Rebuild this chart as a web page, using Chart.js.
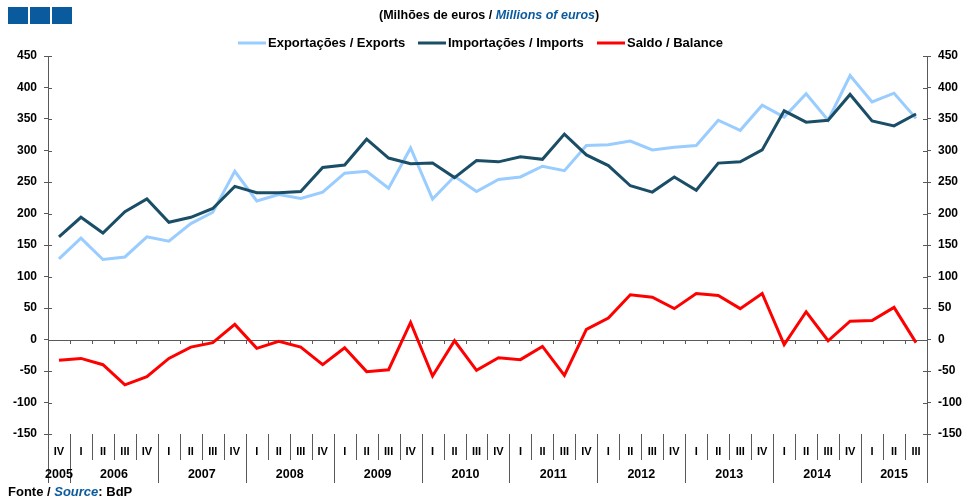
<!DOCTYPE html>
<html>
<head>
<meta charset="utf-8">
<script src="https://cdn.jsdelivr.net/npm/chart.js@4/dist/chart.umd.min.js"></script>
<style>
  body { margin: 0; background: #fff; }
  #wrap { position: relative; width: 968px; height: 502px; overflow: hidden; font-family: "Liberation Sans", Arial, sans-serif; }
  #chart { position: absolute; left: 0; top: 0; }
  .sq { position: absolute; top: 7px; width: 20px; height: 17px; background: #0a5a9e; }
  #sub { position: absolute; left: 379px; top: 8px; font-size: 12.5px; font-weight: bold; color: #000; white-space: nowrap; }
  #foot { position: absolute; left: 8px; top: 484px; font-size: 13px; font-weight: bold; color: #000; white-space: nowrap; }
  .blue { color: #0a5a9e; font-style: italic; }
</style>
</head>
<body>
<div id="wrap">
  <canvas id="chart" width="968" height="502"></canvas>
  <div class="sq" style="left:8px"></div>
  <div class="sq" style="left:30px"></div>
  <div class="sq" style="left:52px"></div>
  <div id="sub">(Milhões de euros / <span class="blue">Millions of euros</span>)</div>
  <div id="foot">Fonte / <span class="blue">Source</span>: BdP</div>
</div>
<script>
// quarters 2005 IV .. 2015 III
const quarters = [
  'IV',
  'I', 'II', 'III', 'IV',
  'I', 'II', 'III', 'IV',
  'I', 'II', 'III', 'IV',
  'I', 'II', 'III', 'IV',
  'I', 'II', 'III', 'IV',
  'I', 'II', 'III', 'IV',
  'I', 'II', 'III', 'IV',
  'I', 'II', 'III', 'IV',
  'I', 'II', 'III', 'IV',
  'I', 'II', 'III'
];
const years = ['2005', '2006', '2007', '2008', '2009', '2010', '2011', '2012', '2013', '2014', '2015'];
const quartersPerYear = [1, 4, 4, 4, 4, 4, 4, 4, 4, 4, 3];

const exportsData = [
  128, 161, 127, 131, 163, 156, 184, 202, 267, 220,
  230, 224, 234, 264, 267, 240, 304, 223, 259, 235,
  254, 258, 275, 268, 308, 309, 315, 301, 305, 308,
  348, 332, 372, 353, 390, 348, 419, 377, 391, 351
];
const importsData = [
  163, 194, 169, 203, 223, 186, 194, 208, 243, 233,
  233, 235, 273, 277, 318, 288, 279, 280, 257, 284,
  282, 290, 286, 326, 293, 276, 244, 234, 258, 237,
  280, 282, 301, 363, 345, 348, 389, 347, 339, 358
];
const balanceData = [
  -33, -30, -40, -72, -59, -30, -12, -5, 24, -14,
  -3, -12, -40, -13, -51, -48, 27, -58, -2, -49,
  -29, -32, -11, -57, 16, 34, 71, 67, 49, 73,
  70, 49, 73, -8, 44, -2, 29, 30, 51, -5
];

const yTicks = { min: -150, max: 450, step: 50 };

const colExports = '#99ccff';
const colImports = '#1a4d66';
const colBalance = '#ff0000';
const axisColor = '#595959';
const font = '"Liberation Sans", Arial, sans-serif';

// legend, zero line, quarter / year labels
const decorations = {
  id: 'decorations',
  beforeDatasetsDraw(chart) {
    const ctx = chart.ctx;
    const x = chart.scales.x;
    const y = chart.scales.y;
    const area = chart.chartArea;
    const y0 = y.getPixelForValue(0);
    ctx.save();
    ctx.strokeStyle = axisColor;
    ctx.lineWidth = 1;
    ctx.beginPath();
    ctx.moveTo(area.left, Math.round(y0) + 0.5);
    ctx.lineTo(area.right, Math.round(y0) + 0.5);
    for (let i = 1; i < quarters.length; i++) {
      const bx = Math.round((x.getPixelForValue(i - 1) + x.getPixelForValue(i)) / 2) + 0.5;
      ctx.moveTo(bx, Math.round(y0));
      ctx.lineTo(bx, Math.round(y0) + 4);
    }
    // inner half of the y tick marks
    y.ticks.forEach(t => {
      const ty = Math.round(y.getPixelForValue(t.value)) + 0.5;
      ctx.moveTo(area.left, ty);
      ctx.lineTo(area.left + 4, ty);
      ctx.moveTo(area.right - 4, ty);
      ctx.lineTo(area.right, ty);
    });
    ctx.stroke();
    ctx.restore();
  },
  afterDraw(chart) {
    const ctx = chart.ctx;
    const x = chart.scales.x;
    const area = chart.chartArea;
    const half = (x.getPixelForValue(1) - x.getPixelForValue(0)) / 2;
    ctx.save();
    // separators
    ctx.strokeStyle = axisColor;
    ctx.lineWidth = 1;
    const yearStarts = [];
    let acc = 0;
    quartersPerYear.forEach(n => { yearStarts.push(acc); acc += n; });
    ctx.beginPath();
    for (let i = 0; i <= quarters.length; i++) {
      const bx = Math.round(i < quarters.length ? x.getPixelForValue(i) - half : x.getPixelForValue(i - 1) + half) + 0.5;
      const isYear = yearStarts.includes(i) || i === quarters.length;
      ctx.moveTo(bx, area.bottom);
      ctx.lineTo(bx, isYear ? area.bottom + 49 : area.bottom + 26);
    }
    ctx.stroke();
    // quarter labels
    ctx.fillStyle = '#000';
    ctx.textAlign = 'center';
    ctx.textBaseline = 'middle';
    ctx.font = 'bold 11px ' + font;
    quarters.forEach((q, i) => ctx.fillText(q, x.getPixelForValue(i), area.bottom + 18));
    // year labels
    ctx.font = 'bold 12.5px ' + font;
    acc = 0;
    years.forEach((yr, k) => {
      const first = x.getPixelForValue(acc);
      const last = x.getPixelForValue(acc + quartersPerYear[k] - 1);
      ctx.fillText(yr, (first + last) / 2, area.bottom + 41);
      acc += quartersPerYear[k];
    });
    // legend
    const items = [
      ['Exportações / Exports', colExports, 238],
      ['Importações / Imports', colImports, 418],
      ['Saldo / Balance', colBalance, 597]
    ];
    ctx.font = 'bold 13px ' + font;
    ctx.textAlign = 'left';
    items.forEach(([label, color, lx]) => {
      ctx.strokeStyle = color;
      ctx.lineWidth = 3;
      ctx.beginPath();
      ctx.moveTo(lx, 43);
      ctx.lineTo(lx + 28, 43);
      ctx.stroke();
      ctx.fillText(label, lx + 30, 43);
    });
    ctx.restore();
  }
};

function yAxis(position, width) {
  return {
    type: 'linear',
    position: position,
    min: yTicks.min,
    max: yTicks.max,
    border: { display: true, color: axisColor, width: 1 },
    grid: { drawOnChartArea: false, drawTicks: true, tickLength: 4, color: axisColor },
    ticks: {
      stepSize: yTicks.step,
      color: '#000',
      padding: 7,
      font: { family: font, size: 12, weight: 'bold' }
    },
    afterFit(scale) { scale.width = width; }
  };
}

new Chart(document.getElementById('chart'), {
  type: 'line',
  data: {
    labels: quarters,
    datasets: [
      { label: 'Exportações / Exports', data: exportsData, borderColor: colExports, backgroundColor: colExports, order: 1 },
      { label: 'Importações / Imports', data: importsData, borderColor: colImports, backgroundColor: colImports, order: 0 },
      { label: 'Saldo / Balance', data: balanceData, borderColor: colBalance, backgroundColor: colBalance, order: 0 }
    ]
  },
  options: {
    responsive: false,
    animation: false,
    devicePixelRatio: 1,
    layout: { padding: { top: 56, left: 0, right: 0, bottom: 0 } },
    elements: {
      line: { borderWidth: 3, tension: 0 },
      point: { radius: 0 }
    },
    plugins: { legend: { display: false }, tooltip: { enabled: false } },
    scales: {
      x: {
        type: 'category',
        offset: true,
        grid: { display: false },
        border: { display: false },
        ticks: { display: false },
        afterFit(scale) { scale.height = 68; }
      },
      y: yAxis('left', 48),
      y2: yAxis('right', 41)
    }
  },
  plugins: [decorations]
});
</script>
</body>
</html>
